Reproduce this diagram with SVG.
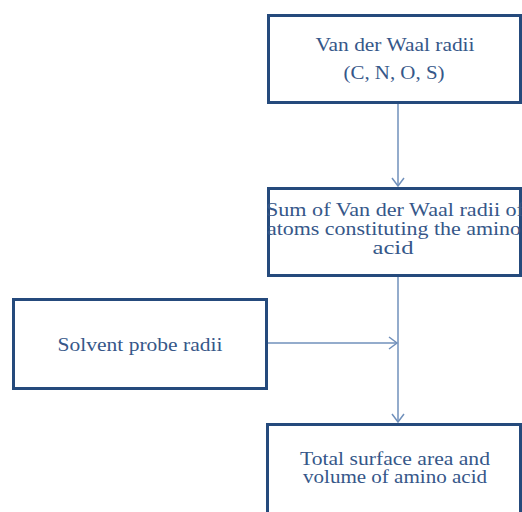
<svg xmlns="http://www.w3.org/2000/svg" width="522" height="512" viewBox="0 0 522 512">
  <style>
    .box { fill: #ffffff; stroke: #254a7c; stroke-width: 3; }
    .lbl { font-family: "Liberation Serif", "Times New Roman", serif; font-size: 18px; fill: #365789; text-anchor: middle; }
    .conn { fill: none; stroke: #7090bb; stroke-width: 1.5; }
  </style>
  <defs>
    <marker id="chev" markerUnits="userSpaceOnUse" markerWidth="12" markerHeight="14" refX="10" refY="7" orient="auto">
      <path d="M2,1 L10,7 L2,13" fill="none" stroke="#7090bb" stroke-width="1.5"/>
    </marker>
  </defs>
  <rect width="522" height="512" fill="#ffffff"/>

  <g id="connectors">
    <line class="conn" x1="398" y1="104" x2="398" y2="186" marker-end="url(#chev)"/>
    <line class="conn" x1="398" y1="277" x2="398" y2="422" marker-end="url(#chev)"/>
    <line class="conn" x1="268" y1="343" x2="397" y2="343" marker-end="url(#chev)"/>
  </g>

  <g id="vdw-radii">
    <rect class="box" x="268.5" y="15.5" width="252" height="87"/>
    <text class="lbl" x="395" y="51" textLength="159" lengthAdjust="spacingAndGlyphs">Van der Waal radii</text>
    <text class="lbl" x="394" y="79" textLength="101" lengthAdjust="spacingAndGlyphs">(C, N, O, S)</text>
  </g>

  <g id="vdw-sum">
    <rect class="box" x="268.5" y="188.5" width="252" height="87"/>
    <text class="lbl" x="395" y="216" textLength="258" lengthAdjust="spacingAndGlyphs">Sum of Van der Waal radii of</text>
    <text class="lbl" x="394" y="235" textLength="254" lengthAdjust="spacingAndGlyphs">atoms constituting the amino</text>
    <text class="lbl" x="393" y="254" textLength="41" lengthAdjust="spacingAndGlyphs">acid</text>
  </g>

  <g id="solvent-probe">
    <rect class="box" x="13.5" y="299.5" width="253" height="89"/>
    <text class="lbl" x="140" y="351" textLength="165" lengthAdjust="spacingAndGlyphs">Solvent probe radii</text>
  </g>

  <g id="surface-volume">
    <rect class="box" x="267.5" y="424.5" width="253" height="100"/>
    <text class="lbl" x="395" y="465" textLength="190" lengthAdjust="spacingAndGlyphs">Total surface area and</text>
    <text class="lbl" x="395" y="483" textLength="184" lengthAdjust="spacingAndGlyphs">volume of amino acid</text>
  </g>
</svg>
